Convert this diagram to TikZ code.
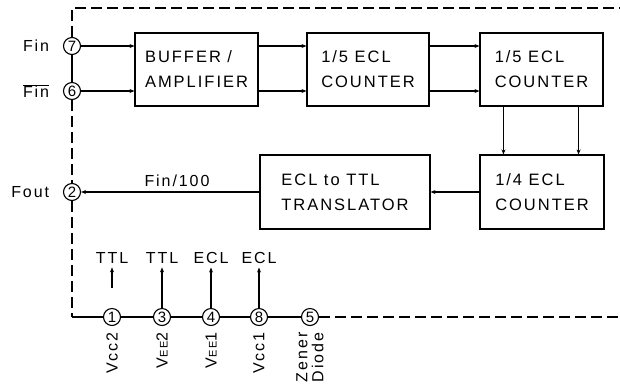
\documentclass[tikz,border=0pt]{standalone}
\usepackage{fontspec}
\setmainfont{Liberation Sans}[LetterSpace=12]
\usetikzlibrary{arrows.meta,positioning}
\begin{document}
\begin{tikzpicture}[x=1pt,y=-1pt,line width=1.1pt,>={Stealth[length=5pt,width=4pt]},
  blockbox/.style={draw,inner sep=0pt,align=left,font=\fontsize{16.5}{25}\selectfont},
  terminal/.style={draw,circle,inner sep=0pt,minimum size=17pt,font=\fontsize{15}{15}\selectfont},
  side/.style={font=\fontsize{16}{16}\selectfont},
  supply/.style={rotate=90,anchor=east,align=center,font=\fontsize{16}{16}\selectfont,inner sep=0pt},
  border/.style={dash pattern=on 11pt off 5pt}]
\useasboundingbox (0,0) rectangle (620,384);

\node[blockbox,minimum width=123pt,minimum height=73pt] (buf) at (196.5,69.5) {BUFFER /\\AMPLIFIER};
\node[blockbox,minimum width=122pt,minimum height=73pt] (cnta) at (368,69.5) {1/5 ECL\\COUNTER};
\node[blockbox,minimum width=123pt,minimum height=73pt] (cntb) at (541.5,69.5) {1/5 ECL\\COUNTER};
\node[blockbox,minimum width=124pt,minimum height=74pt] (cntc) at (542,192) {1/4 ECL\\COUNTER};
\node[blockbox,minimum width=170pt,minimum height=74pt] (trans) at (345,192) {ECL to TTL\\TRANSLATOR};

\node[terminal] (p7) at (72,46) {7};
\node[terminal] (p6) at (72,91) {6};
\node[terminal] (p2) at (72,192) {2};
\node[terminal] (p1) at (112,317) {1};
\node[terminal] (p3) at (162,317) {3};
\node[terminal] (p4) at (211,317) {4};
\node[terminal] (p8) at (259,317) {8};
\node[terminal] (p5) at (310,317) {5};

\node[side,left=10pt of p7] {Fin};
\node[side,left=10pt of p6] {$\overline{\hbox{Fin}}$};
\node[side,left=10pt of p2] {Fout};
\node[side] (div) at (177,181) {Fin/100};

\node[side] (t1) at (112,258) {TTL};
\node[side] (t3) at (162,258) {TTL};
\node[side] (t4) at (211,258) {ECL};
\node[side] (t8) at (259,258) {ECL};

\node[supply] at ([yshift=-6pt]p1.south) {Vcc2};
\node[supply] at ([yshift=-6pt]p3.south) {V{\fontsize{11}{11}\selectfont EE}2};
\node[supply] at ([yshift=-6pt]p4.south) {V{\fontsize{11}{11}\selectfont EE}1};
\node[supply] at ([yshift=-6pt]p8.south) {Vcc1};
\node[supply] at ([yshift=-6pt]p5.south) {Zener\\Diode};

\coordinate (tl) at (72,8);
\coordinate (tr) at (620,8);
\coordinate (bl) at (72,317);
\coordinate (br) at (620,317);
\coordinate (ttl) at (112,288);

\draw[border] (p7) -- (tl) -- (tr);
\draw[border] (p6) -- (p2) -- (bl);
\draw (bl) -- (p1) -- (p3) -- (p4) -- (p8) -- (p5);
\draw[border] (p5) -- (br);
\draw (p7) -- (p6);

\draw[->] (p7) -- (buf.west |- p7);
\draw[->] (p6) -- (buf.west |- p6);
\draw[->] (buf.east |- p7) -- (cnta.west |- p7);
\draw[->] (buf.east |- p6) -- (cnta.west |- p6);
\draw[->] (cnta.east |- p7) -- (cntb.west |- p7);
\draw[->] (cnta.east |- p6) -- (cntb.west |- p6);
\draw[->] ([xshift=24pt]cntb.south west) -- ([xshift=24pt]cntc.north west);
\draw[->] ([xshift=-25pt]cntb.south east) -- ([xshift=-26pt]cntc.north east);
\draw[->] (cntc.west) -- (trans.east);
\draw[->] (trans.west) -- (p2);

\draw[->] (ttl) -- (t1.south);
\draw[->] (p3) -- (t3.south);
\draw[->] (p4) -- (t4.south);
\draw[->] (p8) -- (t8.south);
\end{tikzpicture}
\end{document}
